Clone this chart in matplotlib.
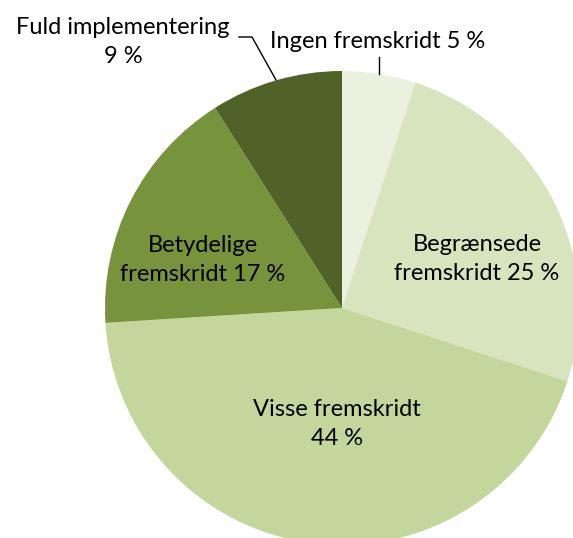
import matplotlib.pyplot as plt

# data
categories = ["Ingen fremskridt", "Begrænsede fremskridt", "Visse fremskridt",
              "Betydelige fremskridt", "Fuld implementering"]
shares = [5, 25, 44, 17, 9]
labels = ["Ingen fremskridt 5 %", "Begrænsede\nfremskridt 25 %", "Visse fremskridt\n44 %",
          "Betydelige\nfremskridt 17 %", "Fuld implementering\n9 %"]
colors = ["#ebf1de", "#d7e4bd", "#c3d69b", "#77933c", "#4f6228"]

W, H = 573, 538
fig = plt.figure(figsize=(W / 100, H / 100), dpi=100)
ax = fig.add_axes([0, 0, 1, 1])

cx, cy, r = 342, H - 308, 237
ax.pie(shares, colors=colors, startangle=90, counterclock=False,
       center=(cx, cy), radius=r, frame=True,
       wedgeprops=dict(linewidth=0))
ax.set_xlim(0, W)
ax.set_ylim(0, H)
ax.set_aspect("equal")
ax.axis("off")

font = dict(family=["Lato", "DejaVu Sans"], fontsize=17, color="black",
            ha="center", va="center", linespacing=1.45)

# label positions in image pixels (x, y from top)
pos = [(378, 42), (477, 259), (337, 424), (203, 260), (123, 42)]
for lab, (x, y) in zip(labels, pos):
    ax.text(x, H - y, lab, **font)

# leader lines
ax.plot([379, 379], [H - 57, H - 74], color="black", lw=1)
ax.plot([239, 252, 276], [H - 37, H - 37, H - 80], color="black", lw=1)

fig.savefig("out.png", dpi=100)
